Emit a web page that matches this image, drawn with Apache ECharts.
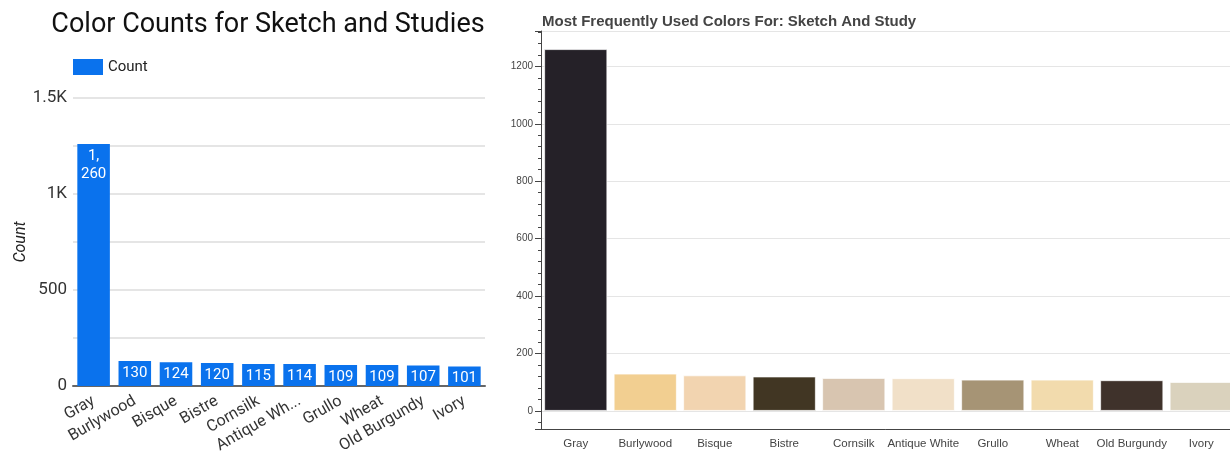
<!DOCTYPE html>
<html>
<head>
<meta charset="utf-8">
<script src="https://cdn.jsdelivr.net/npm/echarts@6/dist/echarts.min.js"></script>
<style>
  html, body { margin: 0; padding: 0; background: #fff; }
  #chart { width: 1230px; height: 451px; }
</style>
</head>
<body>
<div id="chart"></div>
<script>
// Colour names and how often each appears in sketches and studies
const categories = ['Gray', 'Burlywood', 'Bisque', 'Bistre', 'Cornsilk', 'Antique White', 'Grullo', 'Wheat', 'Old Burgundy', 'Ivory'];
const counts = [1260, 130, 124, 120, 115, 114, 109, 109, 107, 101];
// Swatch colour used for each bar on the right-hand panel
const swatches = ['#252128', '#f2cf91', '#f2d4b0', '#413623', '#d8c5b0', '#f1e0c8', '#a69475', '#f2dbad', '#3f322b', '#dad2bd'];
// Left-panel tick labels (shown every 500)
const leftTickLabels = { 0: '0', 500: '500', 1000: '1K', 1500: '1.5K' };

const BLUE = '#0a72ed';
const chart = echarts.init(document.getElementById('chart'), null, { renderer: 'canvas' });

const option = {
  animation: false,
  backgroundColor: '#ffffff',
  title: [
    {
      text: 'Color Counts for Sketch and Studies',
      left: 263, top: 7, textAlign: 'center',
      textStyle: { fontFamily: 'Roboto', fontSize: 27, fontWeight: 'normal', color: '#111' }
    },
    {
      text: 'Most Frequently Used Colors For: Sketch And Study',
      left: 537, top: 9,
      textStyle: { fontFamily: 'Liberation Sans', fontSize: 15, fontWeight: 'bold', color: '#444' }
    }
  ],
  legend: {
    left: 68, top: 54,
    itemWidth: 30, itemHeight: 16, itemGap: 5,
    textStyle: { fontFamily: 'Roboto', fontSize: 15, color: '#222' },
    data: [{ name: 'Count', icon: 'rect' }]
  },
  grid: [
    { left: 73, top: 98, width: 412, height: 288, containLabel: false, outerBoundsMode: 'none' },
    { left: 541, top: 31, width: 695, height: 398, containLabel: false, outerBoundsMode: 'none' }
  ],
  xAxis: [
    {
      gridIndex: 0, type: 'category', data: categories,
      axisLine: { lineStyle: { color: '#666', width: 2 } },
      axisTick: { show: false },
      axisLabel: {
        interval: 0, rotate: 30, margin: 14,
        fontFamily: 'Roboto', fontSize: 16, color: '#333',
        formatter: s => s.length > 12 ? s.slice(0, 10) + '...' : s
      }
    },
    {
      gridIndex: 1, type: 'category', data: categories,
      axisLine: { onZero: false, lineStyle: { color: '#444', width: 1 } },
      axisTick: { alignWithLabel: true, length: 6, lineStyle: { color: '#444' } },
      axisLabel: { interval: 0, margin: 9, fontFamily: 'Liberation Sans', fontSize: 11.5, color: '#444' }
    }
  ],
  yAxis: [
    {
      gridIndex: 0, type: 'value', min: 0, max: 1500, interval: 250,
      name: 'Count', nameLocation: 'middle', nameGap: 44,
      nameTextStyle: { fontFamily: 'Roboto', fontSize: 16, fontStyle: 'italic', color: '#222' },
      axisLine: { show: false }, axisTick: { show: false },
      axisLabel: {
        margin: 6, fontFamily: 'Roboto', fontSize: 17, color: '#333',
        formatter: v => (leftTickLabels[v] !== undefined ? leftTickLabels[v] : '')
      },
      splitLine: { lineStyle: { color: '#dcdcdc', width: 1.5 } }
    },
    {
      gridIndex: 1, type: 'value', min: -63, max: 1323, splitNumber: 7,
      axisLine: { show: true, lineStyle: { color: '#444' } },
      axisTick: { show: true, length: 6, lineStyle: { color: '#444' } },
      minorTick: { show: true, splitNumber: 5, length: 3, lineStyle: { color: '#444' } },
      axisLabel: {
        margin: 8, fontFamily: 'Liberation Sans', fontSize: 10, color: '#444',
        showMinLabel: false, showMaxLabel: false,
        formatter: v => (v % 200 === 0 ? String(v) : '')
      },
      splitLine: { lineStyle: { color: '#e5e5e5', width: 1 } }
    }
  ],
  series: [
    {
      name: 'Count', type: 'bar', xAxisIndex: 0, yAxisIndex: 0,
      data: counts, barWidth: '79%',
      itemStyle: { color: BLUE },
      label: {
        show: true, position: 'insideTop', distance: 3,
        fontFamily: 'Roboto', fontSize: 15, color: '#fff', lineHeight: 18,
        formatter: p => p.value.toLocaleString('en-US').replace(',', ',\n')
      }
    },
    {
      name: 'Colors', type: 'bar', xAxisIndex: 1, yAxisIndex: 1,
      data: counts.map((v, i) => ({ value: v, itemStyle: { color: swatches[i] } })),
      barWidth: '91%',
      itemStyle: { borderColor: 'rgba(255,255,255,0.7)', borderWidth: 1 }
    }
  ]
};

chart.setOption(option);
</script>
</body>
</html>
